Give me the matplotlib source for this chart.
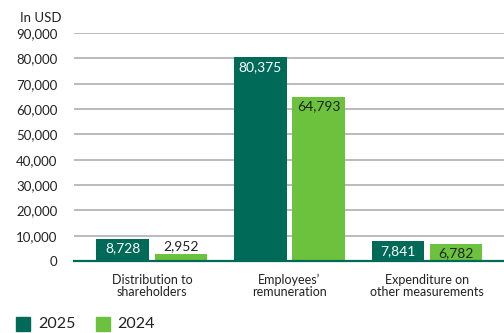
import numpy as np
import matplotlib.pyplot as plt

plt.rcParams['font.family'] = ['Lato', 'DejaVu Sans']

categories = ['Distribution to\nshareholders', 'Employees\u2019\nremuneration', 'Expenditure on\nother measurements']
values_2025 = [8728, 80375, 7841]
values_2024 = [2952, 64793, 6782]
yticks = [0, 10000, 20000, 30000, 40000, 50000, 60000, 70000, 80000, 90000]

dark = '#006a59'
light = '#6cc23c'
text_col = '#222222'

fig = plt.figure(figsize=(5.04, 3.33), dpi=100)
ax = fig.add_axes([74 / 504, 1 - 261 / 333, 430 / 504, 228 / 333])

x = np.arange(len(categories))
w = 0.385
off = 0.211
b1 = ax.bar(x - off, values_2025, w, color=dark, zorder=3)
b2 = ax.bar(x + off, values_2024, w, color=light, zorder=3)

ax.set_ylim(0, 90000)
ax.set_xlim(-0.567, 2.56)
ax.set_yticks(yticks)
ax.set_yticklabels([f'{v:,}' for v in yticks], fontsize=9.5, color=text_col)
ax.tick_params(axis='y', length=0, pad=12)
ax.set_xticks(x)
ax.set_xticklabels(categories, fontsize=9, color=text_col, linespacing=1.05)
ax.tick_params(axis='x', length=0, pad=9)
ax.grid(axis='y', color='#b5b5b8', linewidth=1.3, zorder=0)
for s in ['top', 'right', 'left']:
    ax.spines[s].set_visible(False)
ax.spines['bottom'].set_color(dark)
ax.spines['bottom'].set_linewidth(1.6)
ax.spines['bottom'].set_zorder(4)

for bars, vals, tc in [(b1, values_2025, 'white'), (b2, values_2024, text_col)]:
    for bar, v in zip(bars, vals):
        cx = bar.get_x() + bar.get_width() / 2
        if v < 5000:
            ax.text(cx, v + 700, f'{v:,}', ha='center', va='bottom', fontsize=10, color=text_col, zorder=5)
        else:
            ax.text(cx, v - 1400, f'{v:,}', ha='center', va='top', fontsize=10, color=tc, zorder=5)

fig.text(20 / 504, 1 - 18 / 333, 'In USD', fontsize=9.5, color=text_col, va='center', ha='left')

# legend
fig.patches.append(plt.Rectangle((16 / 504, 1 - 331 / 333), 14 / 504, 14 / 333,
                                 transform=fig.transFigure, color=dark))
fig.text(38 / 504, 1 - 324 / 333, '2025', fontsize=11.5, color=text_col, va='center')
fig.patches.append(plt.Rectangle((96 / 504, 1 - 331 / 333), 14 / 504, 14 / 333,
                                 transform=fig.transFigure, color=light))
fig.text(117 / 504, 1 - 324 / 333, '2024', fontsize=11.5, color=text_col, va='center')

fig.savefig('out.png', dpi=100)
